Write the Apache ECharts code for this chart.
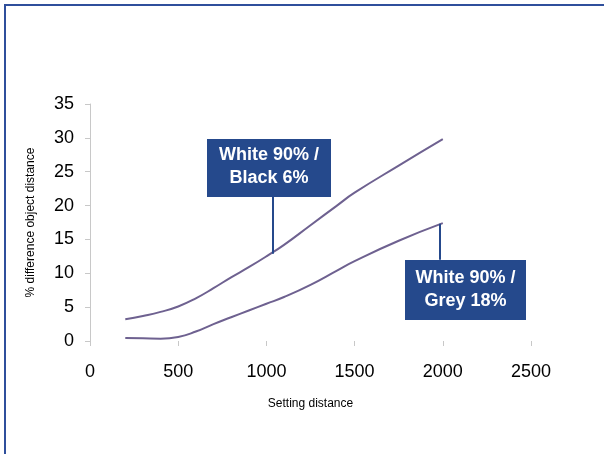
<!DOCTYPE html>
<html><head><meta charset="utf-8">
<script src="https://cdn.jsdelivr.net/npm/echarts@6/dist/echarts.min.js"></script>
<style>html,body{margin:0;padding:0;background:#fff}#c{width:604px;height:454px}</style>
</head><body><div id="c"></div>
<script>
const xTicks = [0, 500, 1000, 1500, 2000, 2500];
const yTicks = [0, 5, 10, 15, 20, 25, 30, 35];
const blackX = [200, 300, 400, 500, 600, 700, 800, 900, 1000, 1100, 1250, 1400, 1500, 1750, 2000];
const blackY = [3.2, 3.7, 4.3, 5.1, 6.3, 7.8, 9.4, 10.9, 12.5, 14.2, 17.1, 20.0, 21.9, 25.9, 29.8];
const greyX = [200, 300, 400, 500, 600, 700, 800, 900, 1000, 1100, 1250, 1400, 1500, 1750, 2000];
const greyY = [0.45, 0.4, 0.35, 0.6, 1.4, 2.5, 3.5, 4.5, 5.5, 6.5, 8.3, 10.4, 11.8, 14.8, 17.4];
const labelBlack = ['White 90% /', 'Black 6%'];
const labelGrey = ['White 90% /', 'Grey 18%'];

const zip = (a, b) => a.map((v, i) => [v, b[i]]);
const chart = echarts.init(document.getElementById('c'));
const lineColor = '#6e6190';
const blue = '#25498c';
const font = 'Liberation Sans, Arial, sans-serif';

chart.setOption({
  animation: false,
  grid: { left: 90, right: 73, top: 104, bottom: 113 },
  xAxis: {
    type: 'value', min: 0, max: 2500, interval: 500,
    name: 'Setting distance', nameLocation: 'middle', nameGap: 57,
    nameTextStyle: { fontFamily: font, fontSize: 12, color: '#000' },
    axisLine: { show: false },
    axisTick: { show: true, length: 5, lineStyle: { color: '#c8c8c8' } },
    splitLine: { show: false },
    axisLabel: { fontFamily: font, fontSize: 18, color: '#000', margin: 22,
      formatter: v => String(v) }
  },
  yAxis: {
    type: 'value', min: 0, max: 35, interval: 5,
    name: '% difference object distance', nameLocation: 'middle', nameGap: 53,
    nameTextStyle: { fontFamily: font, fontSize: 12, color: '#000' },
    axisLine: { show: true, lineStyle: { color: '#c8c8c8' } },
    axisTick: { show: true, length: 5, lineStyle: { color: '#c8c8c8' } },
    splitLine: { show: false },
    axisLabel: { fontFamily: font, fontSize: 18, color: '#000', margin: 16,
      formatter: v => String(v) }
  },
  series: [
    {
      type: 'line', data: zip(blackX, blackY), smooth: 0.5, symbol: 'none',
      lineStyle: { color: lineColor, width: 2 },
      markLine: {
        silent: true, symbol: 'none', label: { show: false },
        lineStyle: { color: blue, width: 2, type: 'solid' },
        data: [[{ coord: [1037, 12.9] }, { coord: [1037, 21.3] }]]
      }
    },
    {
      type: 'line', data: zip(greyX, greyY), smooth: 0.5, symbol: 'none',
      lineStyle: { color: lineColor, width: 2 },
      markLine: {
        silent: true, symbol: 'none', label: { show: false },
        lineStyle: { color: blue, width: 2, type: 'solid' },
        data: [[{ coord: [1984, 17.3] }, { coord: [1984, 12.0] }]]
      }
    }
  ],
  graphic: [
    { type: 'rect', z: 0, shape: { x: 5, y: 5, width: 800, height: 800 },
      style: { fill: 'none', stroke: '#2f4f9c', lineWidth: 2 } },
    { type: 'rect', z: 10, shape: { x: 207, y: 139, width: 124, height: 58 },
      style: { fill: blue } },
    { type: 'text', z: 11, x: 269, y: 167,
      style: { text: labelBlack.join('\n'), fill: '#fff', font: 'bold 18px ' + font,
        align: 'center', verticalAlign: 'middle', lineHeight: 23 } },
    { type: 'rect', z: 10, shape: { x: 405, y: 260, width: 121, height: 60 },
      style: { fill: blue } },
    { type: 'text', z: 11, x: 465.5, y: 290,
      style: { text: labelGrey.join('\n'), fill: '#fff', font: 'bold 18px ' + font,
        align: 'center', verticalAlign: 'middle', lineHeight: 23 } }
  ]
});
</script></body></html>
